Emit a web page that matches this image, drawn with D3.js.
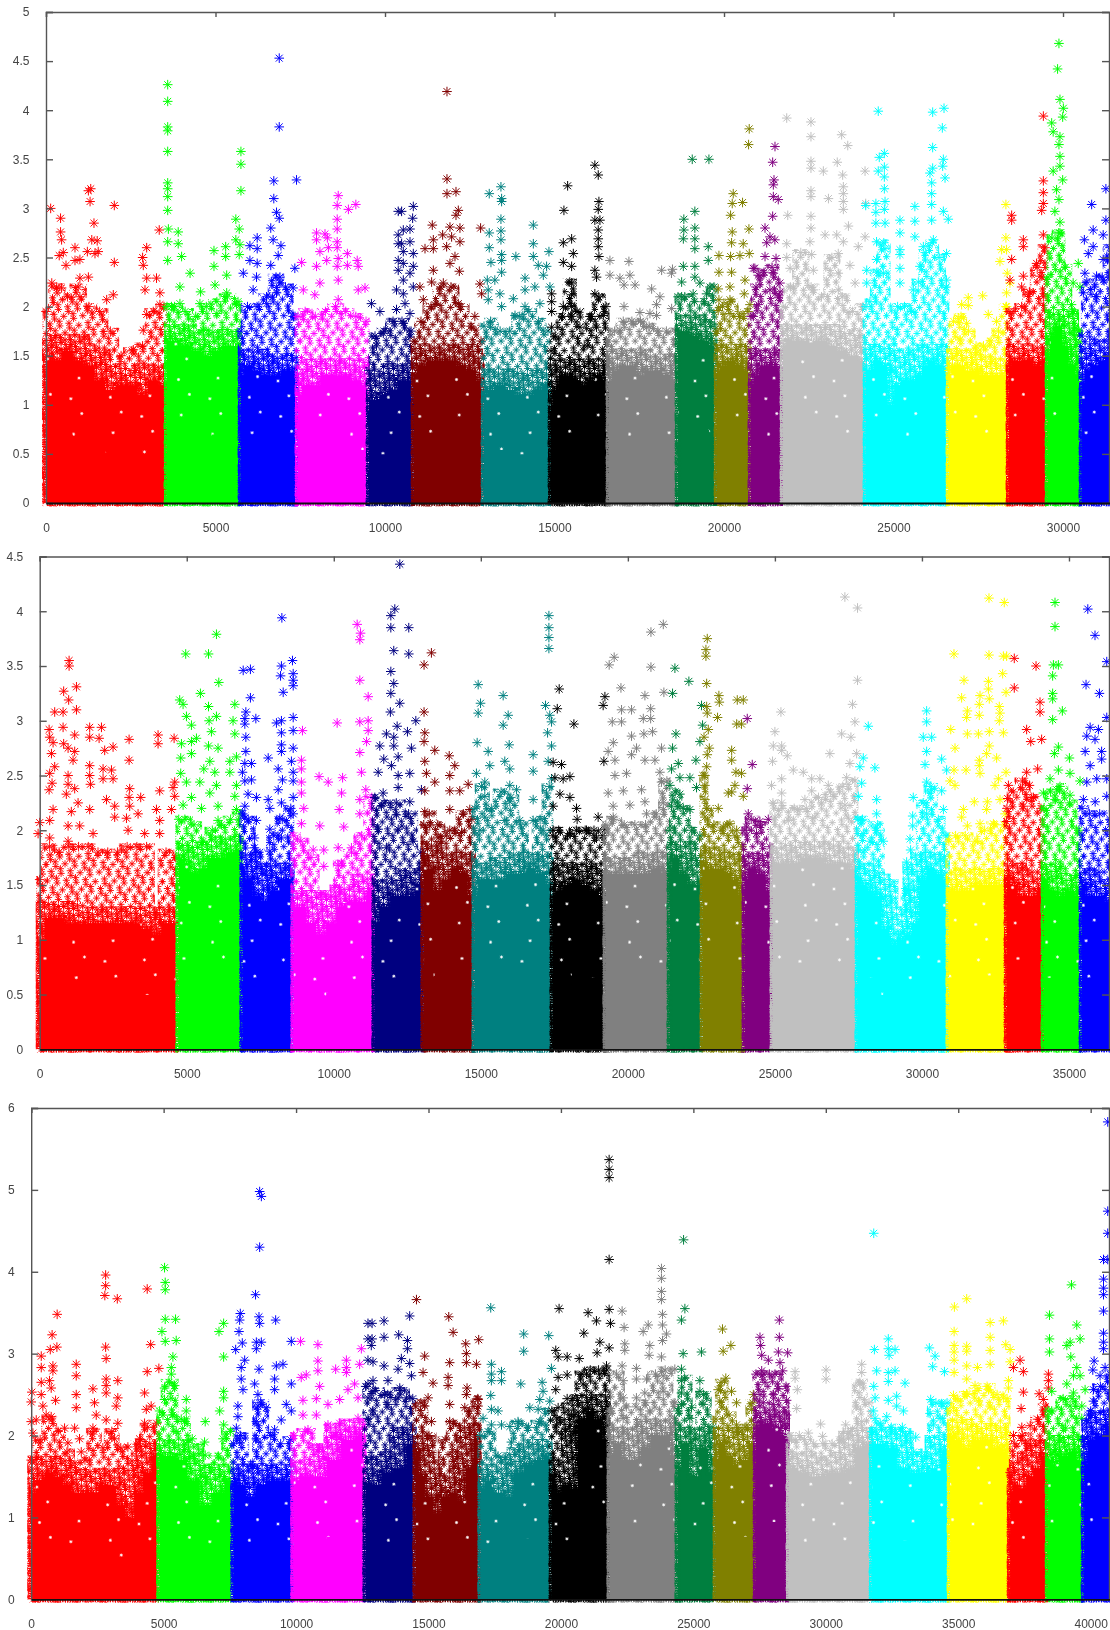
<!DOCTYPE html>
<html>
<head>
<meta charset="utf-8">
<script src="https://cdn.jsdelivr.net/npm/d3@7"></script>
<style>
    html, body { margin: 0; background: #fff; }
    svg { display: block; filter: blur(0.35px); }
    text { font-family: "Liberation Sans", Arial, sans-serif; font-size: 12px; }
</style>
</head>
<body>
<div id="chart"></div>
<script>
// Series colours, same order in every panel
const seriesColors = ['#ff0000', '#00ff00', '#0000ff', '#ff00ff', '#000080', '#800000', '#008080', '#000000', '#808080',
    '#007f3f', '#808000', '#800080', '#c0c0c0', '#00ffff', '#ffff00', '#ff0000', '#00ff00', '#0000ff'];

// ---- top panel ----
const topXTicks = [0, 5000, 10000, 15000, 20000, 25000, 30000];
const topYTicks = [0, 0.5, 1, 1.5, 2, 2.5, 3, 3.5, 4, 4.5, 5];
const topBounds = [0, 3481, 5664, 7345, 9440, 10767, 12832, 14808, 16519, 18555, 19705, 20708, 21652, 24100, 26549, 28319, 29469, 30472, 31386];
const topSolid = [
    [1.5, 1.45, 1.55, 1.45, 1.4, 1.25, 1.15, 1.2, 1.2, 1.1, 1.25, 1.2],
    [1.65, 1.65, 1.6, 1.55, 1.5, 1.55, 1.6, 1.6],
    [1.3, 1.4, 1.35, 1.3, 1.3, 1.35, 1.35],
    [1.1, 1.2, 1.2, 1.3, 1.3, 1.3, 1.25, 1.2],
    [1.05, 1.05, 1.1, 1.15, 1.25, 1.25],
    [1.3, 1.4, 1.45, 1.45, 1.45, 1.4, 1.35, 1.25],
    [1.1, 1.15, 1.2, 1.15, 1.1, 1.1, 1.15, 1.2],
    [1, 1.15, 1.3, 1.3, 1.25, 1.2, 1.25, 1.3, 1.25],
    [1.25, 1.35, 1.4, 1.4, 1.3, 1.35, 1.35, 1.3, 1.25],
    [1.75, 1.75, 1.7, 1.65, 1.6],
    [1.35, 1.4, 1.45, 1.4, 1.35],
    [1.2, 1.3, 1.4, 1.4, 1.35],
    [1.6, 1.65, 1.65, 1.65, 1.65, 1.6, 1.55, 1.5, 1.45],
    [1.35, 1.35, 1.45, 1.4, 1, 1.2, 1.25, 1.25, 1.3, 1.4, 1.45, 1.4, 1.35],
    [1.3, 1.4, 1.4, 1.35, 1.35, 1.3, 1.3, 1.3, 1.3],
    [1.4, 1.45, 1.45, 1.45, 1.4, 1.45],
    [1.5, 1.7, 1.8, 1.6, 1.4, 1.3],
    [1.2, 1.35, 1.4, 1.45, 1.5]
];
const topLoose = [
    [1.95, 2.2, 2.1, 2.2, 2, 1.95, 1.75, 1.5, 1.55, 1.6, 1.95, 2],
    [2, 2, 1.95, 1.9, 2, 2.05, 2.1, 2.05],
    [1.75, 2, 2, 2.1, 2.3, 2.2, 1.9],
    [1.9, 1.95, 1.9, 1.95, 2, 1.95, 1.9, 1.85],
    [1.35, 1.7, 1.75, 1.85, 1.85, 1.75],
    [1.65, 1.85, 2, 2.2, 2.2, 2, 1.8, 1.65],
    [1.8, 1.85, 1.75, 1.75, 1.9, 1.95, 1.85, 1.75],
    [1.55, 1.7, 1.9, 2.25, 1.95, 1.6, 1.9, 2.1, 2],
    [1.65, 1.75, 1.85, 1.85, 1.85, 1.8, 1.75, 1.75, 1.75],
    [2.1, 2.1, 2.05, 2.05, 2.2],
    [1.75, 2, 2.05, 1.9, 1.95],
    [1.9, 2.2, 2.35, 2.4, 2.15],
    [2, 2.2, 2.55, 2.2, 2.1, 2.5, 2.1, 1.95, 2],
    [2, 2.05, 2.35, 2.65, 1.35, 2, 2, 1.95, 2.25, 2.55, 2.65, 2.5, 2.2],
    [1.35, 1.85, 1.9, 1.75, 1.6, 1.6, 1.65, 1.75, 2],
    [1.95, 1.95, 2, 2.15, 2.4, 2.6],
    [2.3, 2.7, 2.75, 2.4, 1.95, 1.75],
    [1.7, 2.25, 2.2, 2.3, 2.6]
];
const topStars = [
    [[138,3],[430,2.9],[430,2.76],[460,2.68],[1320,3.2],[1250,3.18],[1300,3.07],[1415,2.85],[1350,2.68],[1510,2.67],[2015,3.03],[2015,2.45],[3340,2.78],[2970,2.6],[2850,2.5],[390,2.52],[855,2.6],[510,2.55],[855,2.47],[1000,2.48],[1220,2.56],[1445,2.54],[1540,2.56],[590,2.42],[2870,2.42],[170,2.24],[460,2.19],[1000,2.29],[1250,2.3],[1000,2.1],[1985,2.12],[1790,2.07],[2920,2.17],[3260,2.29],[2970,2.29],[3360,2.14],[3360,2.02],[2970,1.92],[2870,1.76],[2575,1.56]],
    [[3590,4.26],[3590,4.09],[3590,3.83],[3590,3.79],[3590,3.58],[3590,3.26],[3590,3.2],[3590,3.12],[3590,2.98],[3610,2.79],[3900,2.76],[3590,2.66],[3900,2.64],[3590,2.47],[4000,2.51],[4955,2.57],[5300,2.61],[5750,3.58],[5750,3.45],[5750,3.18],[5600,2.89],[5700,2.79],[5600,2.68],[5720,2.63],[5300,2.51],[5700,2.53],[4955,2.41],[4250,2.34],[3950,2.2],[4985,2.22],[5330,2.32],[4560,2.15],[3700,2],[4540,2.03],[5620,2.02],[5040,1.93],[3950,2.03],[5330,2.14],[4640,1.76]],
    [[6880,4.53],[6880,3.83],[6720,3.28],[7390,3.29],[6720,3.1],[6800,2.96],[6880,2.9],[6630,2.8],[6700,2.68],[6230,2.7],[6015,2.62],[6230,2.59],[6930,2.62],[6850,2.52],[6015,2.47],[6230,2.44],[6630,2.42],[7340,2.39],[6210,2.3],[6900,2.3],[6800,2.14],[7290,2.19],[6110,2.17],[6510,2.03],[7290,1.9],[5820,2.34],[6900,2.24]],
    [[8620,3.13],[8590,3.03],[8920,2.99],[9140,3.04],[8590,2.89],[8590,2.79],[7980,2.75],[8230,2.74],[7980,2.68],[8300,2.7],[8590,2.66],[8590,2.6],[8080,2.56],[8330,2.6],[8890,2.54],[9180,2.47],[7540,2.45],[8620,2.49],[8280,2.47],[8590,2.41],[8890,2.42],[9210,2.41],[7980,2.41],[7930,2.12],[8620,2.27],[9210,2.17],[9410,2.19],[7590,2.17],[8620,2.07],[8080,2.24]],
    [[10835,3.02],[10490,2.97],[10815,2.9],[10737,2.79],[10540,2.78],[10490,2.64],[10737,2.66],[10540,2.56],[10835,2.54],[10835,2.41],[10737,2.34],[10540,2.44],[10540,2.27],[10835,2.2],[10590,2.03],[10737,1.93],[10540,1.83],[10737,1.69],[10540,2.13],[9600,2.03],[9850,1.95],[9950,1.73],[9750,1.6],[10340,1.97],[10340,2.17],[10390,2.37],[10390,2.97],[10390,2.73],[10390,2.64],[10390,2.47]],
    [[11828,4.19],[11828,3.3],[11828,3.15],[12094,3.17],[12162,2.98],[12094,2.93],[11395,2.83],[11916,2.81],[12211,2.8],[12820,2.8],[11700,2.73],[11965,2.71],[11425,2.68],[11180,2.59],[11425,2.59],[11818,2.61],[12211,2.66],[12064,2.51],[11916,2.44],[12192,2.36],[11425,2.37],[11375,2.25],[11720,2.24],[12800,2.23],[12850,2.13],[11130,2.07],[11030,2.2],[12650,1.9],[12162,2.03],[11475,2.02]],
    [[13420,3.22],[13075,3.15],[13440,3.1],[13440,3.07],[13420,2.89],[14375,2.83],[13075,2.75],[13420,2.77],[13420,2.68],[13075,2.6],[14375,2.64],[13860,2.51],[13440,2.53],[13440,2.47],[13125,2.45],[14375,2.51],[14836,2.56],[14520,2.42],[14767,2.41],[13440,2.35],[14670,2.32],[13017,2.27],[13240,2.27],[14130,2.29],[14130,2.17],[14420,2.2],[13045,2.17],[13390,2.13],[13785,2.08],[13045,2.07],[13440,2],[14130,2],[14865,2.2],[14570,2.03],[13835,1.91]],
    [[16190,3.44],[16290,3.34],[15387,3.23],[16310,3.07],[15278,2.98],[16290,2.99],[16190,2.88],[16340,2.88],[16290,2.78],[16290,2.69],[15505,2.69],[15260,2.65],[16290,2.61],[15555,2.54],[16310,2.51],[15260,2.45],[15505,2.41],[16190,2.37],[16240,2.3],[15505,2.24],[16190,2.13],[15505,2.12],[14915,2.13],[14915,2.05],[15505,2],[15260,2],[16440,1.91],[16045,1.9],[15505,1.9],[14915,1.95],[15750,1.79],[14915,1.79],[16240,1.79]],
    [[16635,2.47],[17195,2.46],[16635,2.32],[16930,2.29],[17225,2.32],[17050,2.22],[17375,2.22],[18160,2.37],[18480,2.38],[18450,2.34],[17865,2.18],[18110,2.1],[17050,2],[18010,2.02],[18455,1.98],[17520,1.94],[17815,1.93],[18010,1.91],[17320,1.83],[16930,1.76],[17720,1.79]],
    [[19063,3.5],[19555,3.5],[19140,2.97],[18815,2.89],[19140,2.8],[18815,2.78],[18800,2.69],[19140,2.69],[19140,2.59],[19535,2.61],[19535,2.47],[18800,2.41],[19140,2.41],[18750,2.25],[19140,2.3],[19485,2.13],[18750,2.1],[19290,2.24],[19585,2.2],[19090,2.13]],
    [[20744,3.81],[20725,3.65],[20272,3.15],[20243,3.05],[20547,3.06],[20194,2.93],[20243,2.76],[20735,2.79],[20223,2.65],[20567,2.64],[19850,2.52],[20470,2.52],[20194,2.51],[20745,2.54],[19850,2.35],[20223,2.35],[20617,2.27],[20175,2.2],[19830,2.18],[20597,2.13],[19850,2.07],[20175,2.07],[20765,2.02],[19830,1.96],[20175,1.93],[20470,1.9]],
    [[21504,3.63],[21435,3.47],[21475,3.29],[21455,3.24],[21455,3.12],[21600,3.09],[21435,2.92],[21210,2.8],[21355,2.71],[21260,2.65],[21500,2.68],[21210,2.51],[21535,2.49],[20865,2.39],[21455,2.34],[21060,2.31],[21650,2.24],[21355,2.17],[21013,2.02],[21600,2.09],[20865,1.9],[20910,2.39],[21010,2.32]],
    [[21850,3.92],[22565,3.88],[22565,3.73],[23470,3.75],[23650,3.64],[22565,3.48],[23340,3.47],[22565,3.41],[22930,3.38],[23500,3.34],[24160,3.38],[22565,3.18],[23520,3.22],[23520,3.15],[23080,3.1],[22565,3.12],[23520,3.07],[24180,3.05],[23520,2.99],[21880,2.93],[22565,2.92],[22565,2.8],[23670,2.82],[23325,2.73],[22980,2.73],[24160,2.71],[21850,2.64],[22535,2.66],[23520,2.66],[23960,2.61],[22585,2.53],[23370,2.54],[21850,2.5],[21950,2.39],[22635,2.37],[23715,2.42],[23370,2.34],[23865,2.24],[22045,2.2],[22635,2.17],[23370,2.17]],
    [[24550,3.99],[26155,3.98],[26490,4.02],[26440,3.82],[26155,3.62],[24730,3.56],[24580,3.52],[26470,3.5],[24730,3.42],[24550,3.38],[24730,3.32],[26155,3.41],[26450,3.43],[26520,3.31],[26075,3.36],[26125,3.26],[24730,3.2],[26125,3.15],[24750,3.07],[24480,3.05],[24180,3.03],[24730,2.99],[24480,2.96],[26125,3.04],[25630,3.02],[26470,2.97],[25190,2.88],[26615,2.89],[24480,2.85],[24750,2.85],[25190,2.75],[25630,2.87],[26125,2.88],[25630,2.71],[24500,2.66],[24750,2.59],[25190,2.58],[25190,2.53],[25880,2.61],[24500,2.48],[26175,2.68],[26565,2.54],[25190,2.39],[24210,2.37],[24210,2.24],[24700,2.34],[25780,2.41],[26565,2.27],[25190,2.24],[25585,2.17]],
    [[28315,3.04],[28315,2.7],[28190,2.58],[28140,2.46],[28335,2.58],[28355,2.34],[27205,2.09],[27630,2.11],[27010,2.02],[27205,2.01],[28335,2.14],[27795,1.92],[26910,1.88],[27155,1.83],[28040,1.85],[28335,2],[28435,2.24],[26960,1.66],[27650,1.59]],
    [[29420,3.94],[29420,3.28],[29420,3.16],[29420,3.05],[29370,2.98],[28485,2.93],[28485,2.88],[28830,2.68],[28830,2.61],[29420,2.73],[28485,2.48],[29220,2.44],[28435,2.27],[28780,2.2],[29320,2.31],[28830,2.31],[29025,2.14],[29420,2.1]],
    [[29880,4.68],[29840,4.42],[29910,4.11],[30010,4.02],[29990,3.93],[29665,3.87],[29710,3.78],[29910,3.73],[29880,3.65],[29910,3.53],[29910,3.43],[29710,3.38],[29990,3.29],[29810,3.19],[29880,3.09],[29760,2.97],[29910,2.86],[29910,2.75],[30450,2.44],[30300,2.24],[30500,2.2],[30250,2.02],[30300,1.71]],
    [[30845,3.04],[31265,3.2],[31265,2.88],[30890,2.78],[30630,2.68],[31185,2.73],[30890,2.61],[30745,2.54],[31185,2.48],[30645,2.34],[30990,2.31],[31185,2.27],[30600,2.14],[30990,2.1]]
];

// ---- middle panel ----
const midXTicks = [0, 5000, 10000, 15000, 20000, 25000, 30000, 35000];
const midYTicks = [0, 0.5, 1, 1.5, 2, 2.5, 3, 3.5, 4, 4.5];
const midBounds = [0, 4626, 6803, 8537, 11293, 12959, 14694, 17347, 19150, 21327, 22449, 23878, 24830, 27721, 30816, 32789, 34048, 35340, 36395];
const midSolid = [
    [1, 1.2, 1.2, 1.15, 1.15, 1.15, 1.15, 1.15, 1.15, 1.15, 1.15, 1.1, 1.05, 1.15, 1.15],
    [1.75, 1.7, 1.6, 1.65, 1.75, 1.75, 1.8, 1.8],
    [1.65, 1.55, 1.4, 1.35, 1.45, 1.55, 1.55],
    [1.3, 1.3, 1.15, 1.05, 1.15, 1.3, 1.35, 1.35, 1.45],
    [1.15, 1.3, 1.4, 1.4, 1.5],
    [1.75, 1.65, 1.45, 1.55, 1.65, 1.6, 1.4],
    [1.4, 1.55, 1.55, 1.55, 1.6, 1.6, 1.65, 1.6, 1.5],
    [1.4, 1.45, 1.5, 1.55, 1.5, 1.45, 1.4],
    [1.6, 1.6, 1.6, 1.6, 1.6, 1.65, 1.6],
    [1.65, 1.75, 1.6, 1.5, 1.5],
    [1.7, 1.65, 1.65, 1.65, 1.6, 1.55, 1.4],
    [1.55, 1.65, 1.6, 1.45],
    [1.7, 1.7, 1.7, 1.75, 1.75, 1.7, 1.7, 1.65],
    [1.55, 1.5, 1.45, 1.4, 1.1, 0.95, 1, 1.05, 1.15, 1.55, 1.65, 1.6, 1.55],
    [1.45, 1.45, 1.45, 1.5, 1.5, 1.5, 1.5],
    [1.55, 1.5, 1.4, 1.4, 1.45],
    [1.55, 1.45, 1.4, 1.45, 1.4],
    [1.5, 1.4, 1.4, 1.35]
];
const midLoose = [
    [1.55, 1.85, 1.8, 1.85, 1.85, 1.85, 1.8, 1.8, 1.8, 1.85, 1.85, 1.85, 1.25, 1.8, 1.75],
    [2.1, 2.1, 2.05, 1.9, 2, 2.05, 2.1, 2.15],
    [2.15, 2.1, 1.8, 1.6, 1.95, 2.1, 2.2],
    [1.95, 1.9, 1.75, 1.4, 1.4, 1.7, 1.8, 1.95, 2.3],
    [2.3, 2.25, 2.25, 2.15, 1.8],
    [2.05, 2.15, 2.05, 1.95, 2, 2.15, 2.1],
    [2.2, 2.4, 2.2, 2.35, 2.3, 2.05, 1.7, 2.1, 2.4],
    [1.95, 2, 1.95, 2, 2, 2, 1.95],
    [2.05, 2.1, 2.05, 2.05, 2.05, 2.15, 2.45],
    [2, 2.35, 2.2, 2, 1.95],
    [2.5, 2.2, 2.05, 2, 2.05, 1.95, 1.85],
    [2, 2.1, 2.05, 1.85],
    [2.25, 2.2, 2.2, 2.2, 2.3, 2.35, 2.4, 2.45],
    [2.1, 2.1, 1.9, 2.05, 1.4, 1, 1.05, 1.45, 1.25, 2.25, 2.4, 2.1, 1.95],
    [1.9, 1.95, 1.95, 1.9, 2, 2.05, 2.05],
    [2.2, 2.35, 2.45, 2.3, 2.2],
    [2.2, 2.35, 2.4, 2.25, 2],
    [2.2, 2.15, 2.15, 2.1]
];
const midStars = [
    [[1000,3.55],[1000,3.5],[1250,3.31],[815,3.27],[985,3.19],[1250,3.1],[510,3.08],[795,3.08],[795,2.94],[320,2.92],[1700,2.94],[2100,2.94],[1190,2.87],[340,2.85],[1700,2.85],[2020,2.84],[455,2.8],[815,2.79],[965,2.75],[2495,2.76],[2210,2.73],[3040,2.83],[4025,2.87],[4025,2.79],[4570,2.84],[1190,2.72],[400,2.7],[3040,2.64],[1135,2.64],[510,2.58],[1700,2.59],[340,2.52],[965,2.5],[1700,2.5],[2155,2.56],[2440,2.55],[2155,2.47],[2495,2.47],[420,2.43],[965,2.42],[1725,2.42],[4590,2.44],[4535,2.39],[320,2.37],[1190,2.38],[3060,2.38],[905,2.33],[3040,2.3],[3435,2.3],[4080,2.36],[4590,2.31],[1305,2.25],[2270,2.28],[455,2.19],[1075,2.17],[1700,2.19],[2550,2.22],[3060,2.22],[3345,2.15],[3970,2.19],[4480,2.19],[2550,2.12],[2950,2.11],[0,2.07],[340,2.09],[965,2.04],[1360,2.04],[4080,2.09],[-55,1.97],[340,1.93],[965,1.9],[1815,1.97],[3005,2],[3570,1.97],[4080,1.97]],
    [[4965,3.61],[5740,3.61],[6010,3.79],[6090,3.35],[5465,3.25],[4760,3.19],[4875,3.15],[5740,3.13],[6635,3.15],[4990,3.04],[6010,3.04],[5760,3],[6575,3],[5160,2.96],[5840,2.9],[6635,2.88],[5330,2.84],[5160,2.81],[4820,2.79],[5740,2.77],[6065,2.75],[5160,2.7],[4795,2.66],[5785,2.63],[6690,2.67],[6465,2.63],[5580,2.56],[5955,2.53],[6465,2.53],[4795,2.52],[4990,2.44],[5445,2.44],[6010,2.41],[6690,2.41],[5785,2.34],[5160,2.3],[6635,2.31],[6065,2.22],[5500,2.2],[4875,2.23],[6065,2.09],[6690,2.19]],
    [[8235,3.94],[8595,3.55],[8220,3.5],[6920,3.46],[7165,3.47],[8190,3.41],[8620,3.43],[8620,3.37],[8620,3.32],[8280,3.26],[7165,3.21],[7010,3.08],[6975,3.02],[7350,3.02],[8050,2.98],[8220,3],[8620,3.03],[6975,2.97],[8220,2.89],[8620,2.91],[7010,2.85],[8220,2.78],[8620,2.75],[7010,2.72],[8220,2.72],[7770,2.66],[6975,2.61],[7200,2.61],[8560,2.63],[8620,2.53],[8110,2.56],[6895,2.53],[6975,2.45],[7200,2.46],[8255,2.46],[8620,2.45],[8110,2.37],[7085,2.33],[7370,2.3],[7770,2.28],[8620,2.3],[6975,2.22],[7825,2.2],[8220,2.25],[8620,2.15],[8165,2.11],[6975,2.11],[7370,2.09],[7825,2.01],[7300,1.93],[8220,1.93],[7825,1.81],[7300,1.84],[7710,1.67]],
    [[10795,3.88],[10910,3.8],[10885,3.74],[10885,3.37],[11170,3.22],[10885,2.99],[11170,3],[10115,2.98],[8935,2.91],[11170,2.91],[11115,2.81],[10885,2.71],[8900,2.64],[8900,2.56],[10940,2.53],[9500,2.49],[9810,2.44],[10300,2.48],[8900,2.44],[8900,2.34],[10265,2.34],[11090,2.37],[10885,2.28],[8980,2.2],[10185,2.19],[10885,2.15],[9525,2.04],[8900,2.06],[10340,2.03],[9300,1.82],[9660,1.82],[10150,1.84],[10600,1.84],[9660,1.67],[10150,1.68]],
    [[12245,4.43],[12075,4.02],[11940,3.96],[11940,3.85],[12550,3.85],[12040,3.64],[12550,3.61],[11940,3.45],[12040,3.34],[11940,3.25],[12245,3.16],[11925,3.08],[12790,3],[12155,2.95],[12505,2.9],[11790,2.88],[12040,2.85],[11565,2.77],[12040,2.77],[12640,2.75],[12190,2.67],[11700,2.65],[11960,2.59],[11510,2.53],[12585,2.52],[12190,2.5],[12190,2.39],[11680,2.34],[12980,2.37],[12585,2.26],[11620,2.22],[12130,2.14],[11510,2.01],[12700,1.9],[12190,2.01],[11790,1.84]],
    [[13320,3.62],[13070,3.51],[13070,3.08],[13095,2.89],[13070,2.81],[13435,2.73],[13925,2.68],[13095,2.63],[14115,2.59],[13150,2.52],[13945,2.5],[13435,2.44],[14570,2.42],[13095,2.36],[13945,2.36],[14285,2.36],[14625,2.19],[13945,2.19],[13095,2.17],[13265,2.04],[13945,2],[14345,1.98],[13550,1.93]],
    [[17315,3.96],[17315,3.85],[17315,3.76],[17315,3.66],[14910,3.33],[15760,3.23],[14990,3.16],[14910,3.07],[15930,3.05],[17200,3.14],[17345,3.05],[17405,2.99],[15760,2.96],[17270,2.89],[14875,2.8],[15965,2.78],[17405,2.77],[15250,2.72],[16780,2.69],[17290,2.63],[15815,2.63],[15305,2.59],[15985,2.56],[16780,2.54],[14850,2.52],[15135,2.44],[15985,2.41],[17405,2.47],[15135,2.31],[16215,2.37],[15985,2.26],[16780,2.28],[17235,2.34],[16325,2.09],[15135,2.12],[15815,2.09],[16780,2.09],[17120,2],[14965,2]],
    [[17665,3.29],[17600,3.11],[18165,2.97],[19220,3.22],[19160,3.14],[19185,2.63],[17460,2.62],[17745,2.6],[18030,2.49],[17800,2.47],[17520,2.48],[17690,2.33],[18030,2.3],[18255,2.2],[17460,2.22],[18275,2.1],[18990,2.12],[17460,2],[18595,2],[19220,2.01],[18030,1.97],[18935,1.93]],
    [[19535,3.58],[19365,3.51],[20785,3.81],[21205,3.88],[20785,3.49],[19765,3.3],[20580,3.23],[21225,3.26],[20775,3.11],[19785,3.1],[20125,3.1],[19470,2.99],[19785,2.99],[20525,3.02],[20775,3.02],[20125,2.86],[20545,2.88],[20840,2.9],[19505,2.8],[21145,2.75],[20295,2.75],[19330,2.72],[20125,2.69],[19560,2.64],[20580,2.64],[20920,2.64],[21090,2.53],[19560,2.5],[19955,2.52],[19330,2.34],[19845,2.36],[20465,2.37],[21145,2.44],[19500,2.22],[20070,2.23],[20580,2.26],[19500,2.12],[20635,2.15],[21205,2.25]],
    [[21600,3.48],[22075,3.36],[21520,3.25],[22505,3.14],[21635,2.88],[22540,2.96],[22450,2.81],[21520,2.75],[21715,2.61],[22315,2.64],[22110,2.48],[21770,2.48],[21485,2.56],[22335,2.39],[21430,2.41],[21770,2.33],[21485,2.22],[22110,2.19],[21770,2.22]],
    [[22700,3.75],[22655,3.65],[22655,3.59],[22680,3.34],[23095,3.23],[23110,3.17],[23720,3.19],[22680,3.13],[22700,3.07],[23050,3.03],[23700,2.97],[22735,2.92],[22590,2.85],[22770,2.75],[23530,2.73],[22700,2.69],[23530,2.64],[22680,2.58],[23675,2.53],[22620,2.5],[23530,2.35],[23640,2.41],[23415,2.34],[22620,2.41],[22620,2.28],[23075,2.2],[22620,2.12],[23470,2.06],[23245,2.03],[23700,2],[23925,3.19],[23865,2.97],[23865,2.52],[23925,2.31]],
    [[24060,3.02],[24230,2.6],[24060,2.38],[24095,2.15],[24775,2.1],[24490,2.08],[24040,2.03],[24375,1.97]],
    [[27380,4.13],[27810,4.03],[27810,3.37],[27640,3.15],[25205,3.08],[27720,2.99],[25000,2.9],[27585,2.85],[27270,2.88],[24945,2.77],[25230,2.77],[25230,2.73],[25420,2.68],[26870,2.7],[27780,2.7],[24920,2.63],[27550,2.61],[25625,2.55],[25965,2.53],[27440,2.48],[25230,2.47],[26250,2.47],[26530,2.47],[24885,2.41],[25230,2.34],[26815,2.41],[26250,2.36],[26985,2.31],[27380,2.23],[26020,2.28],[25230,2.25],[26590,2.25],[25850,2.19],[25000,2.12],[25455,2.09],[27495,2.11],[26360,2.12]],
    [[30160,3.09],[30160,2.99],[28175,2.95],[30045,2.85],[30330,2.85],[30160,2.72],[28005,2.66],[30670,2.65],[27890,2.58],[28400,2.57],[30105,2.6],[30840,2.55],[27950,2.43],[30160,2.44],[30330,2.37],[30670,2.36],[27835,2.31],[29705,2.3],[28460,2.28],[27950,2.09],[28460,2.15],[29685,2.13],[29685,2.04],[30160,2.15],[30730,2.19],[28460,2],[28005,1.97],[29595,1.92],[28685,1.9],[28060,1.82],[29615,1.82],[29480,1.71],[29650,1.62],[29535,1.46]],
    [[32280,4.12],[32800,4.08],[31090,3.61],[32280,3.6],[32770,3.59],[32880,3.59],[32745,3.43],[31430,3.37],[32260,3.36],[32860,3.26],[32260,3.29],[31975,3.23],[31350,3.21],[32290,3.2],[31950,3.15],[32630,3.13],[31545,3.09],[31520,3.03],[31950,3.05],[32655,3.07],[32630,3],[30980,2.92],[31545,2.88],[31920,2.88],[32290,2.9],[32770,2.89],[31125,2.75],[32290,2.77],[32200,2.7],[32540,2.66],[31950,2.64],[31950,2.59],[31090,2.55],[31500,2.55],[31975,2.52],[32860,2.53],[30955,2.45],[32600,2.47],[31125,2.41],[32485,2.41],[31780,2.26],[32225,2.26],[32655,2.28],[32200,2.19],[31410,2.19],[31350,2.12],[32825,2.15],[31545,2.04],[31975,2.06],[32430,2.06]],
    [[33140,3.57],[33880,3.5],[33140,3.3],[34015,3.17],[34015,3.08],[33560,2.92],[34070,2.83],[33700,2.81],[33935,2.56],[33560,2.53],[32940,2.41],[33655,2.41],[33425,2.37],[32915,2.29],[33790,2.3],[33450,2.22],[32880,2.08]],
    [[34525,4.08],[34525,3.86],[34470,3.51],[34640,3.51],[34445,3.41],[34445,3.25],[34445,3.2],[34775,3.09],[34445,3.01],[34640,2.76],[34505,2.7],[35015,2.66],[34640,2.55],[35035,2.52],[34355,2.47],[35375,2.45],[34130,2.34],[34585,2.37],[35035,2.32],[34525,2.28]],
    [[35640,4.02],[35885,3.78],[36285,3.54],[35580,3.33],[36035,3.25],[36285,3.03],[35720,2.94],[36000,2.92],[35605,2.86],[35885,2.83],[35550,2.72],[36110,2.72],[35720,2.59],[36110,2.65],[35605,2.44],[35945,2.47],[36285,2.47],[35490,2.28],[35890,2.26],[36285,2.31]]
];

// ---- bottom panel ----
const lowXTicks = [0, 5000, 10000, 15000, 20000, 25000, 30000, 35000, 40000];
const lowYTicks = [0, 1, 2, 3, 4, 5, 6];
const lowBounds = [0, 4734, 7529, 9796, 12516, 14405, 16861, 19543, 21734, 24303, 25739, 27250, 28497, 31632, 34579, 36845, 38281, 39641, 40730];
const lowSolid = [
    [1.3, 1.45, 1.55, 1.5, 1.4, 1.3, 1.3, 1.3, 1.4, 1.4, 1.15, 1, 1.3, 1.55, 1.75],
    [1.75, 1.75, 1.7, 1.45, 1.15, 1.3, 1.45],
    [1.45, 1.4, 1.25, 1.4, 1.45, 1.45, 1.45],
    [1.45, 1.5, 1.5, 1.7, 1.95, 2],
    [1.4, 1.4, 1.55, 1.6, 1.9],
    [1.8, 1.5, 1.25, 1.05, 1.25, 1.3, 1.2, 1.6, 1.95],
    [1.35, 1.45, 1.3, 1.25, 1.55, 1.65, 1.7, 1.75],
    [1.5, 1.3, 1.4, 1.35, 2.2, 2.3, 2.2, 1.95],
    [1.75, 1.9, 1.7, 1.7, 1.85, 2, 2, 1.75],
    [1.6, 1.9, 1.5, 1.85, 1.55],
    [1.7, 1.9, 1.75, 1.65, 1.7, 1.9],
    [2.1, 2.15, 2.1, 2],
    [1.6, 1.6, 1.55, 1.5, 1.5, 1.55, 1.55, 1.6, 1.85, 1.9],
    [1.9, 1.9, 1.85, 1.6, 1.55, 1.55, 1.6, 1.8],
    [2, 1.95, 1.85, 1.95, 1.95, 1.85, 1.8],
    [1.3, 1.4, 1.35, 1.5, 1.6, 1.75],
    [1.7, 1.65, 1.75, 1.8, 1.7],
    [1.65, 1.95, 2, 2.1]
];
const lowLoose = [
    [1.7, 1.95, 2.2, 2.05, 1.8, 1.55, 1.7, 2.05, 1.85, 2.05, 1.85, 1.1, 1.9, 2.1, 2.15],
    [2.3, 2.65, 2.2, 1.75, 1.5, 1.75, 2.05],
    [1.9, 2, 1.65, 2.4, 2, 1.9, 1.95],
    [2, 2.05, 1.85, 2, 2.05, 2.1],
    [2.6, 2.55, 2.5, 2.55, 2.45],
    [2.35, 2.4, 2, 1.25, 1.95, 2.15, 1.45, 2.3, 2.45],
    [2, 2.05, 1.75, 1.65, 2.15, 2.1, 2.15, 2.3],
    [2.3, 2.2, 2.05, 2.05, 2.75, 2.8, 2.8, 2.8],
    [2.3, 2.75, 2.35, 2.35, 2.4, 2.75, 2.8, 2.4],
    [2.3, 2.7, 1.95, 2.5, 2.1],
    [2.2, 2.65, 2.25, 2.05, 2.1, 2.4],
    [2.75, 2.75, 2.75, 2.6],
    [2, 1.95, 1.95, 1.9, 1.9, 1.9, 1.95, 2.05, 2.65, 2.4],
    [2.05, 2.15, 2.1, 2.05, 1.8, 1.75, 2.4, 2.4],
    [2.3, 2.45, 2.5, 2.55, 2.6, 2.5, 2.45],
    [1.55, 1.9, 2, 1.9, 2.2, 2.35],
    [2.3, 1.8, 2.45, 2.45, 1.95],
    [1.95, 2.3, 2.6, 2.75]
];
const lowStars = [
    [[980,3.48],[790,3.23],[970,3.08],[720,3.05],[380,2.97],[380,2.83],[820,2.85],[820,2.79],[690,2.67],[380,2.65],[755,2.58],[380,2.5],[25,2.53],[0,2.41],[920,2.43],[440,2.36],[565,2.25],[755,2.23],[0,2.17],[190,2.19],[65,2.03],[1700,2.87],[1700,2.73],[1700,2.5],[1700,2.34],[2810,3.96],[2810,3.83],[2780,3.71],[3250,3.67],[2810,3.08],[2830,2.94],[2830,2.69],[2830,2.61],[3270,2.67],[2330,2.57],[2830,2.52],[3270,2.46],[2390,2.4],[3210,2.36],[2455,2.25],[2830,2.19],[3270,2.15],[1260,2.09],[1640,2.09],[1385,1.91],[3650,1.86],[4380,3.79],[4510,3.11],[4380,2.78],[4820,2.82],[4280,2.52],[4345,2.32],[4530,2.36],[4280,2.15],[2330,2.09],[3150,1.96],[4090,1.96],[1890,1.8],[1825,1.96]],
    [[5035,4.05],[5060,3.87],[5060,3.78],[5060,3.42],[5450,3.42],[4935,3.27],[5060,3.15],[5475,3.16],[7265,3.37],[7090,3.27],[7265,2.96],[5350,2.96],[5290,2.83],[5290,2.75],[5415,2.61],[5035,2.58],[7265,2.54],[7265,2.46],[5035,2.44],[5855,2.44],[7115,2.3],[5855,2.3],[5350,2.25],[6570,2.17],[7265,2.13],[5790,2.17],[6080,1.96],[7240,1.96],[6545,1.92],[6570,1.76],[6800,1.61],[5475,2.05],[4975,2.25]],
    [[8625,4.98],[8690,4.92],[8625,4.3],[8470,3.72],[7895,3.49],[7870,3.41],[8600,3.45],[8625,3.37],[9230,3.41],[7845,3.27],[7970,3.13],[8500,3.14],[8690,3.14],[9820,3.15],[8500,3.06],[7720,3.05],[8060,2.92],[7930,2.83],[8600,2.81],[9255,2.85],[9505,2.87],[7930,2.69],[9190,2.69],[8435,2.63],[9820,2.63],[7995,2.56],[9190,2.56],[8560,2.5],[7805,2.36],[7805,2.23],[8560,2.36],[8875,2.34],[9630,2.38],[9820,2.3],[9440,2.19],[8500,2.17],[7745,2.09],[9190,2.07],[7870,1.96],[8500,1.96]],
    [[10170,3.15],[10825,3.11],[12465,3.06],[10825,2.91],[11900,2.92],[11900,2.83],[11495,2.81],[12400,2.87],[10825,2.79],[10385,2.74],[10195,2.71],[11900,2.77],[10890,2.6],[11960,2.56],[12210,2.63],[10260,2.43],[10765,2.45],[11645,2.44],[11205,2.38],[10260,2.25],[10765,2.25],[12340,2.46],[11645,2.15],[12340,2.21],[11205,2.13],[10450,2.07],[11520,1.99]],
    [[12715,3.37],[12715,3.18],[12715,2.92],[12715,2.63],[12715,2.46],[12715,2.21],[12870,3.37],[13320,3.4],[14290,3.46],[12870,3.18],[12840,3.1],[13320,3.2],[13875,3.23],[14205,3.16],[14205,3.06],[12905,2.9],[13320,2.85],[13975,2.94],[14290,2.88],[13850,2.81],[14355,2.73],[13470,2.67],[12905,2.67],[13915,2.58],[12905,2.54],[13345,2.5],[14165,2.46],[12905,2.3],[13470,2.38],[13850,2.46]],
    [[14545,3.66],[15765,3.45],[15930,3.26],[16895,3.17],[16405,3.12],[16430,3],[14855,2.97],[15800,2.89],[16430,2.89],[16810,2.87],[14795,2.77],[15740,2.71],[15170,2.64],[15740,2.61],[16455,2.58],[16430,2.5],[14985,2.46],[16870,2.44],[15800,2.38],[16870,2.36],[14855,2.36],[16370,2.34],[15110,2.17],[15800,2.17]],
    [[17350,3.56],[17375,2.87],[17755,2.78],[17375,2.75],[17375,2.67],[17755,2.67],[18595,3.24],[18595,3.03],[19540,3.22],[19640,2.82],[18485,2.63],[19290,2.65],[17350,2.49],[19325,2.54],[19200,2.44],[18825,2.34],[17375,2.32],[17625,2.3],[19580,2.42],[19140,2.32],[17060,2.21],[18380,2.17],[17375,2.13],[17755,2.13],[18070,2.11],[19200,2.17],[18130,1.92]],
    [[21820,5.37],[21820,5.25],[21820,5.15],[21820,4.15],[19930,3.55],[21025,3.5],[21820,3.54],[21340,3.4],[20865,3.25],[21870,3.37],[21470,3.14],[21365,3.01],[21820,3.07],[19805,3.04],[19895,2.96],[20235,2.96],[20690,2.94],[21720,2.85],[19895,2.71],[20235,2.74],[19805,2.56],[20235,2.45],[19895,2.34],[20395,2.25],[19830,2.13],[20965,2.75],[20840,2.63],[21465,2.75]],
    [[22310,3.52],[22385,3.32],[22410,3.12],[22410,3.04],[23795,4.04],[23795,3.92],[23795,3.76],[23795,3.66],[23835,3.48],[23835,3.35],[23985,3.24],[23835,3.16],[23295,3.35],[23105,3.27],[23355,3.1],[23330,2.98],[23795,2.96],[22850,2.82],[22850,2.69],[22310,2.85],[22350,2.67],[23230,2.69],[24300,2.81],[23860,2.73],[23165,2.52],[22350,2.46],[23860,2.54],[22850,2.46],[22350,2.21],[23355,2.3]],
    [[24630,4.39],[24680,3.55],[24550,3.41],[24615,3],[25305,3.02],[24550,2.81],[24550,2.67],[25245,2.67],[24550,2.52],[25245,2.54],[25370,2.38],[24550,2.38],[24930,2.34],[24865,2.21]],
    [[26100,3.3],[26125,3.03],[26415,3.1],[26225,2.7],[25935,2.56],[26440,2.54],[25995,2.42],[26630,2.4],[26630,2.13],[27265,2.5],[27200,2.32],[27265,2.13]],
    [[28245,3.41],[27515,3.2],[28245,3.2],[27540,3.1],[27580,2.98],[28210,3.02],[28560,3.01],[27830,2.92],[28270,2.89],[27580,2.79],[27870,2.75],[28370,2.79],[27705,2.65],[28210,2.57],[27515,2.5],[28020,2.5],[28520,2.43],[27640,2.4],[28020,2.38],[27890,2.23],[28520,2.25],[28460,2.13]],
    [[28840,2.78],[28840,2.7],[30010,2.8],[30010,2.69],[28925,2.56],[31355,2.87],[31355,2.77],[28900,2.33],[31290,2.63],[31165,2.36],[29805,2.14],[30750,2.13],[29000,2],[29340,2.03],[29880,1.99],[31355,2.17]],
    [[31810,4.47],[31835,3.05],[32360,3.18],[32360,3.06],[32615,3.05],[32390,2.98],[33910,3.07],[34125,2.97],[34035,2.84],[31920,2.79],[32360,2.77],[32615,2.79],[34480,2.78],[32360,2.66],[32990,2.64],[31810,2.6],[31860,2.46],[33960,2.44],[32360,2.43],[32675,2.48],[34375,2.39],[32675,2.36],[32930,2.3],[31795,2.3],[33935,2.27],[32300,2.23],[31860,2.21],[32890,2.1],[34315,2.21],[34060,2.13],[33395,1.98]],
    [[35320,3.67],[34855,3.57],[34845,3.27],[36205,3.38],[36705,3.4],[36205,3.2],[34845,3.1],[34845,3.02],[35320,3.09],[35320,3.03],[36795,3.11],[36960,3.05],[36205,3.04],[34845,2.92],[36205,2.87],[35320,2.85],[35725,2.83],[34845,2.77],[35320,2.69],[36960,2.9],[36895,2.67],[34820,2.49],[35320,2.51],[35635,2.61],[36140,2.56],[36705,2.46],[36205,2.36],[34820,2.34],[35760,2.42],[36895,2.58]],
    [[37335,2.92],[37085,2.83],[37460,2.78],[38405,2.75],[38405,2.67],[38405,2.58],[37460,2.53],[38055,2.51],[38215,2.44],[37375,2.33],[38280,2.3],[37400,2.1],[37715,2.12],[38215,2.11],[37400,1.94],[37085,2],[37020,1.51]],
    [[39275,3.84],[38445,3.47],[39475,3.35],[38445,3.18],[39600,3.18],[39225,3.14],[39100,3.1],[38445,3.02],[39250,2.96],[39475,2.83],[39350,2.73],[39600,2.73],[39100,2.63],[39790,2.56],[39350,2.52],[38530,2.54],[39225,2.36],[38530,2.3],[39665,2.36],[39665,2.21],[39055,2.09]],
    [[40645,5.83],[40645,4.74],[40645,4.47],[40485,4.15],[40645,4.15],[40485,3.91],[40485,3.8],[40485,3.72],[40485,3.52],[40485,3.25],[40485,3.14],[40485,3.06],[40130,2.91],[40080,2.8],[40545,2.83],[40355,2.73],[40105,2.56],[40545,2.56],[40105,2.42],[39915,2.25],[40485,2.3],[39855,2.15]]
];

const WIDTH = 1110;
const HEIGHT = 1630;

// asterisk marker, gnuplot's point type 3
function starPath(r) {
    const d = r * 0.72;
    return (x, y) => `M${x - r},${y}H${x + r}M${x},${y - r}V${y + r}M${x - d},${y - d}L${x + d},${y + d}M${x - d},${y + d}L${x + d},${y - d}`;
}

class ManhattanPanel {
    constructor(svg, box) {
        this.box = box;
        this.id = box.id;
        this.g = svg.append('g');
    }

    render(bounds, solid, loose, stars, xTicks, yTicks) {
        const { left, top, bottom } = this.box;
        const x = d3.scaleLinear().domain([0, d3.max(bounds)]).range([left, WIDTH]);
        const y = d3.scaleLinear().domain([0, d3.max(yTicks)]).range([bottom, top]);
        const mark = starPath(4.8);

        // Marks, one series over the other in file order
        seriesColors.forEach((color, i) => {
            const series = this.g.append('g').attr('fill', 'none').attr('stroke', color);
            const toX = d3.scaleLinear().range([bounds[i], bounds[i + 1]]);
            // the stroke fringe sticks out, so later columns start a little inside their bound
            const inset = i ? 3 : 0;
            const colX = k => x(toX(k)) + (k === 0 ? inset : 0);
            const area = values => {
                toX.domain([0, values.length - 1]);
                return d3.area()
                    .curve(d3.curveStep)
                    .x((d, k) => colX(k))
                    .y0(y(0))
                    .y1(d => y(d))(values);
            };

            const clipId = `${this.id}clip${i}`;
            series.append('clipPath').attr('id', clipId)
                .append('rect')
                .attr('x', x(bounds[i]) - (i ? 0 : 4))
                .attr('y', top)
                .attr('width', x(bounds[i + 1]) - x(bounds[i]) + 4)
                .attr('height', bottom - top);

            series.append('path')
                .attr('d', area(loose[i]))
                .attr('fill', `url(#sparse${i})`)
                .attr('stroke', `url(#sparse${i})`)
                .attr('stroke-width', 7);

            // the crowded band just above the full colour
            series.append('path')
                .attr('d', area(solid[i]))
                .attr('clip-path', `url(#${clipId})`)
                .attr('stroke', `url(#dense${i})`)
                .attr('stroke-width', 34);

            series.append('path')
                .attr('d', area(solid[i]))
                .attr('fill', color)
                .attr('stroke-width', 6)
                .attr('stroke-dasharray', '1.4 1.1');

            // small white gaps in the full colour, up high only
            series.append('path')
                .attr('d', d3.area()
                    .curve(d3.curveStep)
                    .x((d, k) => colX(k))
                    .y0(d => y(d * 0.45))
                    .y1(d => y(d))(solid[i]))
                .attr('stroke', 'none')
                .attr('fill', 'url(#gaps)');

            // the envelope tips are points too
            toX.domain([0, loose[i].length - 1]);
            series.append('path')
                .attr('stroke-width', 0.95)
                .attr('d', loose[i].map((d, k) => mark(colX(k), y(d))).join(''));

            series.selectAll('path.star')
                .data(stars[i])
                .join('path')
                .attr('class', 'star')
                .attr('stroke-width', 1)
                .attr('d', d => mark(x(d[0]), y(d[1])));
        });

        // Axes, drawn over the points
        const axes = this.g.append('g');
        axes.append('g')
            .attr('transform', `translate(${left},0)`)
            .call(d3.axisLeft(y).tickValues(yTicks).tickSize(-7).tickPadding(16.5).tickFormat(String));
        axes.append('g')
            .attr('transform', `translate(${WIDTH - 1},0)`)
            .call(d3.axisRight(y).tickValues(yTicks).tickSize(-7).tickFormat(''));
        axes.append('g')
            .attr('transform', `translate(0,${top})`)
            .call(d3.axisTop(x).tickValues(xTicks).tickSize(-5).tickFormat(''));
        axes.append('g')
            .attr('class', 'base')
            .attr('transform', `translate(0,${bottom})`)
            .call(d3.axisBottom(x).tickValues(xTicks).tickSize(0).tickPadding(20).tickFormat(String));

        axes.selectAll('.domain, .tick line').attr('stroke', '#555').attr('stroke-width', 1.4);
        axes.select('.base .domain').attr('stroke', '#111').attr('stroke-width', 1.8);
        axes.selectAll('text').attr('fill', '#444');
    }
}

const svg = d3.select('#chart').append('svg').attr('width', WIDTH).attr('height', HEIGHT);

// Textures for the crowded part of each column, tiles of small asterisks that wrap at the edge
function tilePath(count, w, h, r) {
    const tileMark = starPath(r);
    return d3.range(count).map(i => {
        const px = ((i * 0.7549) % 1) * w;
        const py = ((i * 0.5698) % 1) * h;
        return d3.cross([-w, 0, w], [-h, 0, h]).map(([a, b]) => tileMark(px + a, py + b)).join('');
    }).join('');
}

const defs = svg.append('defs');
const texture = (id, color, count, w, h, r, width) => {
    defs.append('pattern')
        .attr('id', id)
        .attr('patternUnits', 'userSpaceOnUse')
        .attr('width', w)
        .attr('height', h)
        .append('path')
        .attr('d', tilePath(count, w, h, r))
        .attr('fill', 'none')
        .attr('stroke', color)
        .attr('stroke-width', width);
};
seriesColors.forEach((color, i) => {
    texture(`sparse${i}`, color, 84, 67, 59, 3.6, 0.9);
    texture(`dense${i}`, color, 170, 67, 59, 3.2, 1);
});
texture('gaps', '#ffffff', 26, 139, 127, 1.6, 0.75);

new ManhattanPanel(svg, { id: 'a', left: 46, top: 12, bottom: 503 })
    .render(topBounds, topSolid, topLoose, topStars, topXTicks, topYTicks);
new ManhattanPanel(svg, { id: 'b', left: 39.7, top: 556.5, bottom: 1049.3 })
    .render(midBounds, midSolid, midLoose, midStars, midXTicks, midYTicks);
new ManhattanPanel(svg, { id: 'c', left: 31.2, top: 1108, bottom: 1599.3 })
    .render(lowBounds, lowSolid, lowLoose, lowStars, lowXTicks, lowYTicks);
</script>
</body>
</html>
